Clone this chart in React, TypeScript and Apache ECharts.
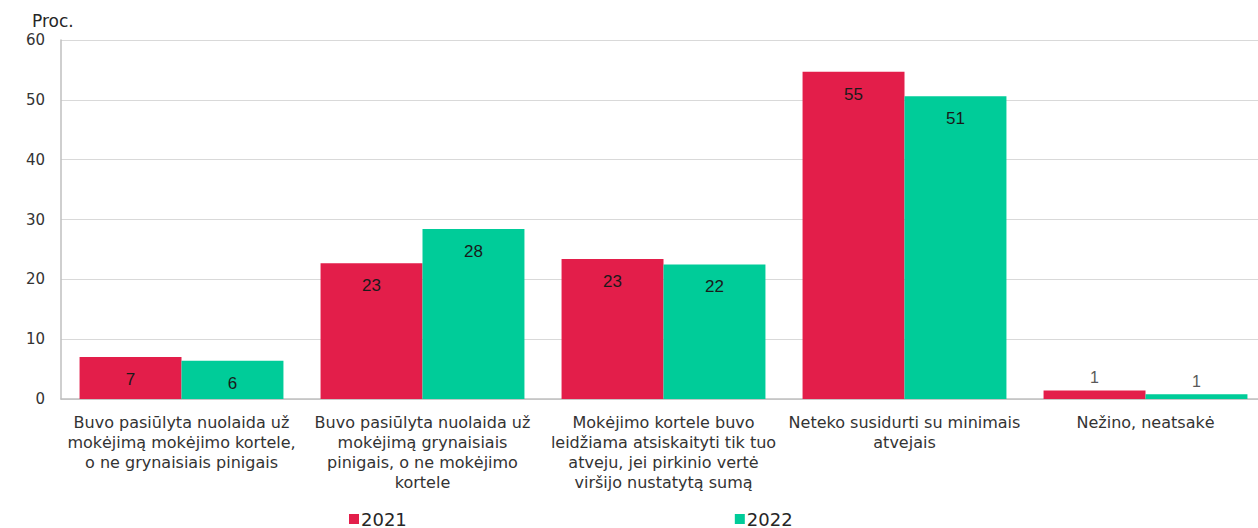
import React, { useEffect, useRef } from "react";
import * as echarts from "echarts";

const categories = [
  "Buvo pasiūlyta nuolaida už\nmokėjimą mokėjimo kortele,\no ne grynaisiais pinigais",
  "Buvo pasiūlyta nuolaida už\nmokėjimą grynaisiais\npinigais, o ne mokėjimo\nkortele",
  "Mokėjimo kortele buvo\nleidžiama atsiskaityti tik tuo\natveju, jei pirkinio vertė\nviršijo nustatytą sumą",
  "Neteko susidurti su minimais\natvejais",
  "Nežino, neatsakė",
];
const values2021 = [7.0, 22.7, 23.4, 54.7, 1.4];
const values2022 = [6.4, 28.4, 22.5, 50.6, 0.8];
const labels2021 = ["7", "23", "23", "55", "1"];
const labels2022 = ["6", "28", "22", "51", "1"];
const yTicks = [0, 10, 20, 30, 40, 50, 60];

const RED = "#E31E4A";
const GREEN = "#00CC99";

function buildData(vals: number[], labels: string[]) {
  return vals.map((v, i) =>
    v < 3
      ? {
          value: v,
          label: {
            position: "top",
            distance: 5,
            color: "#595959",
            fontSize: 16,
            formatter: () => labels[i],
          },
        }
      : { value: v, label: { formatter: () => labels[i] } }
  );
}

export default function App() {
  const ref = useRef<HTMLDivElement>(null);
  useEffect(() => {
    if (!ref.current) return;
    const chart = echarts.init(ref.current, undefined, { renderer: "svg" });
    const barLabel = {
      show: true,
      position: "insideTop",
      distance: 14,
      color: "#1a1a1a",
      fontSize: 17,
      fontFamily: "'Liberation Sans Narrow', 'Arial Narrow', 'Liberation Sans', Arial, sans-serif",
    };
    chart.setOption({
      animation: false,
      backgroundColor: "#ffffff",
      graphic: [
        {
          type: "text",
          left: 32,
          top: 12,
          style: {
            text: "Proc.",
            fontSize: 17,
            fontFamily: "'DejaVu Sans', sans-serif",
            fill: "#262626",
          },
        },
      ],
      legend: {
        left: 349,
        top: 510,
        padding: 0,
        itemWidth: 10,
        itemHeight: 10,
        itemGap: 328,
        icon: "rect",
        textStyle: {
          fontSize: 18,
          fontFamily: "'DejaVu Sans', sans-serif",
          color: "#262626",
          padding: [0, 0, 0, -3],
        },
        data: ["2021", "2022"],
      },
      grid: { left: 61, right: 0, top: 40, bottom: 129, containLabel: false },
      xAxis: {
        type: "category",
        data: categories,
        axisLine: { show: true, lineStyle: { color: "#bfbfbf", width: 1.5 } },
        axisTick: { show: false },
        axisLabel: {
          interval: 0,
          margin: 13,
          fontSize: 16,
          lineHeight: 20,
          color: "#333333",
          fontFamily: "'DejaVu Sans', sans-serif",
          align: "center",
        },
      },
      yAxis: {
        type: "value",
        min: yTicks[0],
        max: yTicks[yTicks.length - 1],
        interval: 10,
        axisLine: { show: true, lineStyle: { color: "#bfbfbf", width: 1.5 } },
        axisTick: { show: false },
        splitLine: { lineStyle: { color: "#d9d9d9", width: 1 } },
        axisLabel: {
          margin: 16,
          fontSize: 15,
          color: "#333333",
          fontFamily: "'DejaVu Sans', sans-serif",
        },
      },
      series: [
        {
          name: "2021",
          type: "bar",
          data: buildData(values2021, labels2021),
          itemStyle: { color: RED },
          barGap: "0%",
          barCategoryGap: "15.4%",
          label: barLabel,
        },
        {
          name: "2022",
          type: "bar",
          data: buildData(values2022, labels2022),
          itemStyle: { color: GREEN },
          barGap: "0%",
          barCategoryGap: "15.4%",
          label: barLabel,
        },
      ],
    });
    return () => chart.dispose();
  }, []);
  return (
    <div
      style={{
        position: "absolute",
        left: 0,
        top: 0,
        width: 1258,
        height: 528,
        overflow: "hidden",
        background: "#fff",
      }}
    >
      <div ref={ref} style={{ width: 1266, height: 528 }} />
    </div>
  );
}
